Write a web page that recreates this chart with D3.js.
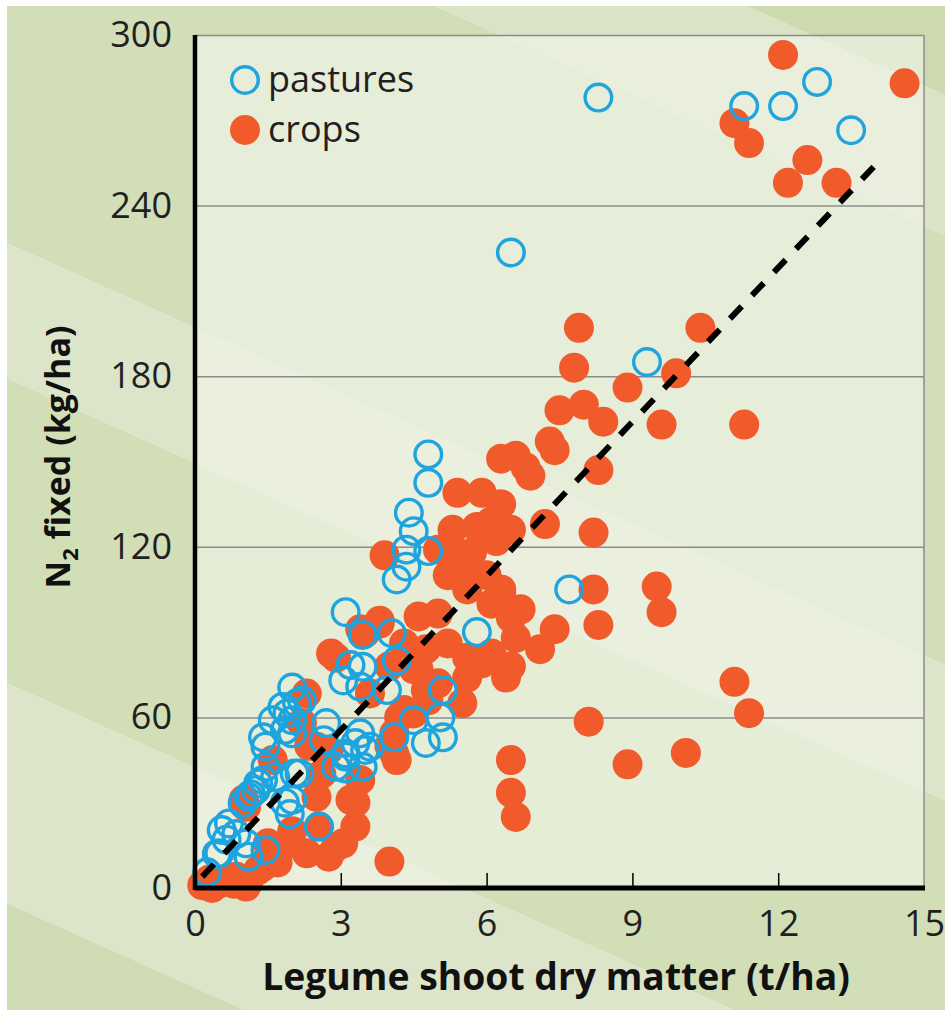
<!DOCTYPE html>
<html>
<head>
<meta charset="utf-8">
<script src="https://cdn.jsdelivr.net/npm/d3@7"></script>
<style>
  body { margin: 0; background: #fff; }
  svg { display: block; }
</style>
</head>
<body>
<div id="chart"></div>
<script>
// crops: [shoot dry matter t/ha, N2 fixed kg/ha]
const crops = [
    [12.1, 293], [14.6, 283], [11.1, 269], [11.4, 262], [12.6, 256], [12.2, 248], [13.2, 248],
    [10.4, 197], [7.9, 197], [7.8, 183], [8.9, 176], [9.9, 181], [7.5, 168], [8.0, 170], [8.4, 164],
    [9.6, 163], [11.3, 163], [7.3, 157], [7.4, 154], [6.3, 151], [6.6, 152], [6.9, 145], [6.8, 148],
    [8.3, 147], [5.4, 139], [5.9, 139], [6.3, 135], [5.3, 126], [5.8, 127], [6.1, 129], [6.5, 126],
    [7.2, 128], [8.2, 125], [6.2, 122], [5.0, 119], [5.3, 119], [5.7, 118], [3.9, 117], [5.2, 110],
    [5.6, 112], [6.0, 110], [6.3, 105], [5.6, 105], [6.7, 98], [8.2, 105], [9.5, 106], [9.6, 97],
    [8.3, 92.5], [7.4, 91], [7.1, 84], [6.4, 74], [6.3, 104], [6.5, 95], [6.6, 88], [6.1, 82.5],
    [5.5, 65], [11.1, 72.5], [11.4, 61.5], [8.1, 58.5], [10.1, 47.5], [8.9, 43.5], [6.5, 45],
    [6.5, 33.5], [6.6, 25], [4.6, 95.5], [5.0, 96.5], [3.8, 94], [3.4, 91], [4.3, 86], [4.75, 84],
    [5.2, 86], [5.6, 81], [5.9, 79], [6.5, 78], [2.8, 82.5], [4.6, 77], [5.0, 72], [5.6, 74],
    [6.1, 100], [3.5, 89.6], [3.8, 93], [2.9, 81], [3.6, 68.4], [4.0, 78], [4.5, 77], [4.75, 69.6],
    [2.3, 68.4], [4.2, 60], [4.5, 61.4], [4.1, 54.4], [4.1, 47.3], [2.5, 49.7], [2.75, 48.5],
    [4.3, 62.6], [4.8, 66], [2.35, 50], [4.0, 50], [4.15, 45], [3.4, 38], [2.5, 32], [3.3, 30],
    [3.3, 21.6], [1.9, 15.7], [2.3, 12.2], [2.75, 11], [3.05, 15.7], [2.9, 14.5], [4.0, 9.3],
    [1.5, 15.7], [1.05, 28.6], [2.55, 21.6], [3.2, 31], [1.0, 31], [1.6, 45], [2.2, 58], [2.6, 40],
    [0.15, 1], [0.5, 1.6], [0.85, 4], [1.05, 0.5], [1.3, 6.3], [0.35, 0], [0.8, 1.5], [1.1, 2],
    [1.4, 7.5], [0.6, 3], [0.3, 3], [1.7, 9], [2.0, 20]
];

const pastures = [
    [8.3, 278], [11.3, 275], [12.1, 275], [12.8, 283.5], [13.5, 266.5], [6.5, 223.5], [9.3, 185],
    [7.7, 105], [5.8, 90], [5.1, 69.6], [5.05, 60], [5.1, 53], [4.75, 51],
    [4.8, 152.5], [4.8, 142.5], [4.4, 132], [4.5, 125.5], [4.35, 119], [4.8, 118.5], [4.35, 113],
    [4.15, 108.5], [3.1, 97], [3.45, 89], [4.05, 89.6], [4.15, 80], [3.2, 78.4], [3.45, 77.8],
    [3.05, 73], [3.4, 70.8], [3.95, 69.6], [2.0, 70.5], [2.1, 65], [1.8, 63.7], [1.6, 59], [2.0, 59],
    [1.4, 53], [2.7, 58], [3.4, 54.4], [3.6, 49.7], [3.1, 47.3], [4.1, 53], [4.5, 59], [2.2, 66],
    [1.9, 61.4], [1.85, 55.6], [2.0, 54.4], [1.45, 49.7], [2.65, 52], [3.1, 46.2], [3.3, 51],
    [3.5, 48.5], [3.1, 42], [3.45, 42.6], [2.05, 40.3], [1.65, 39], [1.4, 38], [1.25, 34.5],
    [1.1, 32], [1.85, 30], [2.0, 31], [1.95, 26], [2.55, 21.6], [0.7, 22.7], [0.85, 19],
    [0.55, 20.4], [1.45, 13.4], [1.1, 11], [0.5, 12.2], [0.25, 5.5], [0.45, 12], [0.65, 17],
    [1.05, 15.7], [1.45, 42.6], [2.15, 40.3], [2.9, 42.6], [1.15, 33], [1.3, 36.8], [0.98, 29.8]
];

// ends of the dashed fit line
const fitLine = [[0.15, 4], [14.15, 257]];

const xTicks = [0, 3, 6, 9, 12, 15];
const xInnerTicks = [3, 6, 9, 12];
const yTicks = [0, 60, 120, 180, 240, 300];
const yGrid = [60, 120, 180, 240, 300];
const seriesNames = ["pastures", "crops"];

const W = 945, H = 1010;
const margin = { top: 35, right: 21, bottom: 122, left: 195 };
const width = W - margin.left - margin.right;
const height = H - margin.top - margin.bottom;

const cropColor = "#f15a2a";
const pastureColor = "#1ea4df";
const font = "'Open Sans', 'DejaVu Sans', sans-serif";

const svg = d3.select("#chart").append("svg")
    .attr("width", W)
    .attr("height", H);

// striped green backdrop
const slope = 0.45;
const bandEdges = [-1000, -330, -190, 240, 375, 680, 900, 2000];
const bandColors = ["#cddaaf", "#dbe3c6", "#d2deb8", "#dce4c9", "#d2deb6", "#dce4c9", "#cfdbb2"];

svg.append("clipPath").attr("id", "bgclip")
    .append("rect").attr("x", 7).attr("y", 6).attr("width", W - 7).attr("height", H - 6);

const bg = svg.append("g").attr("clip-path", "url(#bgclip)");
bandColors.forEach((c, i) => {
    const c0 = bandEdges[i], c1 = bandEdges[i + 1];
    bg.append("polygon")
        .attr("points", [[0, c0], [W, c0 + slope * W], [W, c1 + slope * W], [0, c1]].join(" "))
        .attr("fill", c);
});

const g = svg.append("g")
    .attr("transform", `translate(${margin.left},${margin.top})`);

// pale plot panel
g.append("rect")
    .attr("width", width)
    .attr("height", height)
    .attr("fill", "#f4f6ec")
    .attr("opacity", 0.6);

const x = d3.scaleLinear().domain([0, 15]).range([0, width]);
const y = d3.scaleLinear().domain([0, 300]).range([height, 0]);

// gridlines
g.append("g")
    .call(d3.axisLeft(y).tickValues(yGrid).tickSize(-width).tickFormat(""))
    .call(a => a.select(".domain").remove())
    .selectAll("line")
    .attr("stroke", "#8c8c8c")
    .attr("stroke-width", 1.5);

// right border
g.append("line")
    .attr("x1", width).attr("x2", width)
    .attr("y1", 0).attr("y2", height)
    .attr("stroke", "#8c8c8c")
    .attr("stroke-width", 1.5);

// points: crops underneath, pastures on top
g.append("g").selectAll("circle")
    .data(crops)
    .enter().append("circle")
    .attr("cx", d => x(d[0]))
    .attr("cy", d => y(d[1]))
    .attr("r", 15)
    .attr("fill", cropColor);

g.append("g").selectAll("circle")
    .data(pastures)
    .enter().append("circle")
    .attr("cx", d => x(d[0]))
    .attr("cy", d => y(d[1]))
    .attr("r", 13.3)
    .attr("fill", "none")
    .attr("stroke", pastureColor)
    .attr("stroke-width", 3.4);

g.append("path")
    .datum(fitLine)
    .attr("fill", "none")
    .attr("stroke", "#000")
    .attr("stroke-width", 6)
    .attr("stroke-dasharray", "17,15")
    .attr("d", d3.line().x(d => x(d[0])).y(d => y(d[1])));

// inner ticks on x axis
g.append("g")
    .attr("transform", `translate(0,${height})`)
    .call(d3.axisTop(x).tickValues(xInnerTicks).tickSize(15).tickFormat(""))
    .call(a => a.select(".domain").remove())
    .selectAll("line")
    .attr("stroke", "#000")
    .attr("stroke-width", 1.5);

// x axis labels
const xAxis = g.append("g")
    .attr("transform", `translate(0,${height})`)
    .call(d3.axisBottom(x).tickValues(xTicks).tickSize(0).tickPadding(22));
xAxis.select(".domain").remove();
xAxis.selectAll("text")
    .style("font-family", font)
    .style("font-size", "36px")
    .attr("fill", "#231f20");

// y axis labels
const yAxis = g.append("g")
    .call(d3.axisLeft(y).tickValues(yTicks).tickSize(0).tickPadding(23));
yAxis.select(".domain").remove();
yAxis.selectAll("text")
    .style("font-family", font)
    .style("font-size", "36px")
    .attr("fill", "#231f20");

// thick axis lines
g.append("line")
    .attr("x1", 0).attr("x2", width + 1)
    .attr("y1", height).attr("y2", height)
    .attr("stroke", "#000")
    .attr("stroke-width", 5);
g.append("line")
    .attr("x1", 0).attr("x2", 0)
    .attr("y1", 0).attr("y2", height + 2)
    .attr("stroke", "#000")
    .attr("stroke-width", 4.5);

// axis titles
const xTitle = svg.append("text")
    .attr("x", 556)
    .attr("y", 990)
    .attr("text-anchor", "middle")
    .style("font-family", font)
    .style("font-weight", "bold")
    .style("font-size", "36px")
    .attr("fill", "#111")
    .text("Legume shoot dry matter (t/ha)");
const xw = xTitle.node().getComputedTextLength();
xTitle.style("font-size", (36 * 588 / xw) + "px");

const yTitle = svg.append("text")
    .attr("transform", "translate(70,457) rotate(-90)")
    .attr("text-anchor", "middle")
    .style("font-family", font)
    .style("font-weight", "bold")
    .style("font-size", "34px")
    .attr("fill", "#111");
yTitle.append("tspan").text("N");
yTitle.append("tspan").attr("dy", 8).style("font-size", "22px").text("2");
yTitle.append("tspan").attr("dy", -8).text(" fixed (kg/ha)");

// legend
const legend = g.append("g").attr("transform", "translate(50,45)");
seriesNames.forEach((name, i) => {
    const row = legend.append("g").attr("transform", `translate(0,${i * 50})`);
    if (name === "pastures") {
        row.append("circle").attr("r", 13.3)
            .attr("fill", "none").attr("stroke", pastureColor).attr("stroke-width", 3.4);
    } else {
        row.append("circle").attr("r", 15).attr("fill", cropColor);
    }
    row.append("text")
        .attr("x", 23)
        .attr("y", 12)
        .style("font-family", font)
        .style("font-size", "36px")
        .attr("fill", "#231f20")
        .text(name);
});
</script>
</body>
</html>
